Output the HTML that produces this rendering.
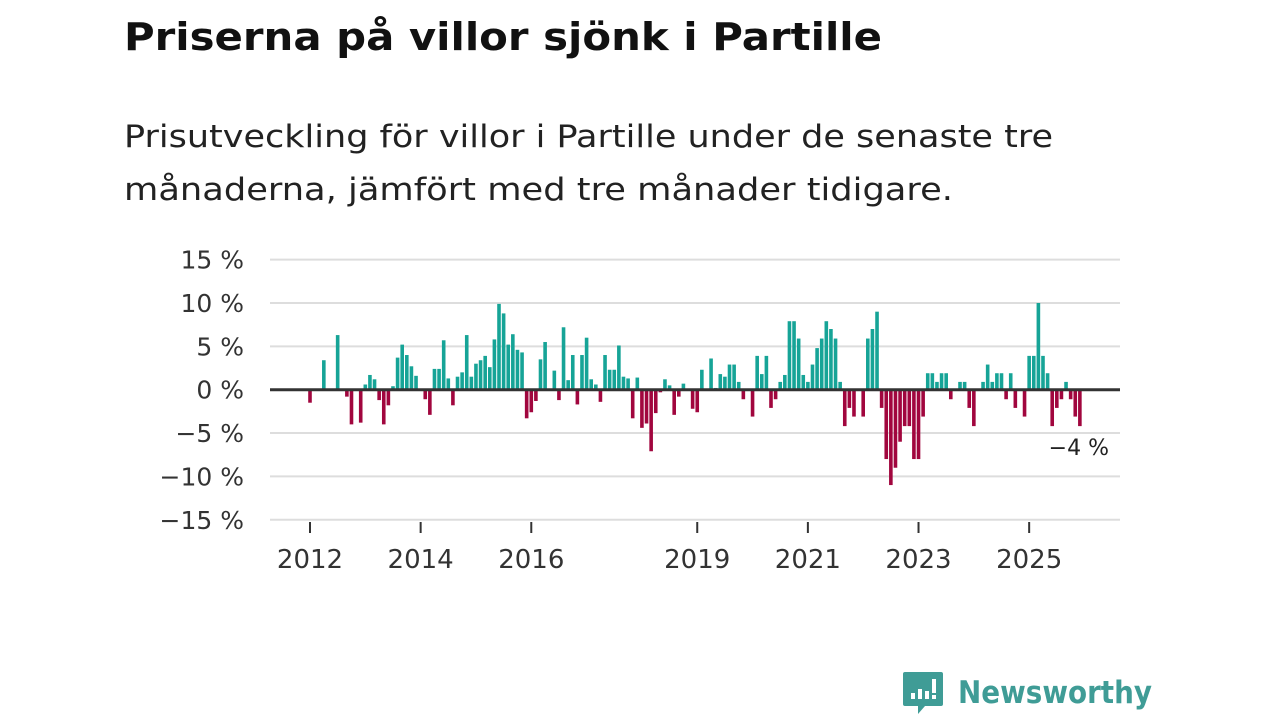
<!DOCTYPE html>
<html><head><meta charset="utf-8"><style>
body{margin:0;background:#fff;width:1280px;height:720px;overflow:hidden}
svg{display:block}
text{font-family:"DejaVu Sans","Liberation Sans",sans-serif}
</style></head><body>
<svg id="chart" width="1280" height="720">
<text x="124" y="50" font-size="38" font-weight="bold" fill="#111" textLength="758" lengthAdjust="spacingAndGlyphs">Priserna på villor sjönk i Partille</text>
<text x="124" y="147" font-size="31" fill="#222" textLength="929" lengthAdjust="spacingAndGlyphs">Prisutveckling för villor i Partille under de senaste tre</text>
<text x="124" y="200" font-size="31" fill="#222" textLength="829" lengthAdjust="spacingAndGlyphs">månaderna, jämfört med tre månader tidigare.</text>
<g id="grid"></g><g id="bars"></g><g id="axes"></g>
<text x="1109" y="455" font-size="22" fill="#222" text-anchor="end">−4 %</text>
<g>
<path d="M905,672 h36 a2,2 0 0 1 2,2 v30 a2,2 0 0 1 -2,2 h-16 l-7,8 v-8 h-13 a2,2 0 0 1 -2,-2 v-30 a2,2 0 0 1 2,-2z" fill="#3f9c96"/>
<rect x="911" y="693" width="4" height="6" fill="#fff"/><rect x="918" y="689" width="4" height="10" fill="#fff"/><rect x="925" y="691" width="4" height="8" fill="#fff"/><rect x="932" y="679" width="4" height="14" fill="#fff"/><rect x="932" y="695" width="4" height="4" fill="#fff"/>
<text x="958" y="703" font-size="31" font-weight="bold" fill="#3f9c96" textLength="194" lengthAdjust="spacingAndGlyphs">Newsworthy</text>
</g>
</svg>
<script>
const months=[0,3,6,8,9,11,12,13,14,15,16,17,18,19,20,21,22,23,25,26,27,28,29,30,31,32,33,34,35,36,37,38,39,40,41,42,43,44,45,46,47,48,49,50,51,53,54,55,56,57,58,59,60,61,62,63,64,65,66,67,68,69,70,71,72,73,74,75,76,77,78,79,80,81,83,84,85,86,87,88,89,90,91,92,93,94,96,97,98,99,100,101,102,103,104,105,106,107,108,109,110,111,112,113,114,115,116,117,118,120,121,122,123,124,125,126,127,128,129,130,131,132,133,134,135,136,137,138,139,141,142,143,144,146,147,148,149,150,151,152,153,155,156,157,158,159,160,161,162,163,164,165,166,167];
const values=[-1.5,3.4,6.3,-0.8,-4,-3.8,0.6,1.7,1.2,-1.2,-4,-1.8,0.4,3.7,5.2,4.0,2.7,1.6,-1.1,-2.9,2.4,2.4,5.7,1.3,-1.8,1.5,2.0,6.3,1.5,3.0,3.4,3.9,2.6,5.8,9.9,8.8,5.2,6.4,4.6,4.3,-3.3,-2.6,-1.3,3.5,5.5,2.2,-1.2,7.2,1.1,4.0,-1.7,4.0,6.0,1.2,0.6,-1.4,4.0,2.3,2.3,5.1,1.5,1.3,-3.3,1.4,-4.4,-3.9,-7.1,-2.7,-0.3,1.2,0.5,-2.9,-0.8,0.7,-2.2,-2.6,2.3,0.1,3.6,0.2,1.8,1.5,2.9,2.9,0.9,-1.1,-3.1,3.9,1.8,3.9,-2.1,-1.1,0.9,1.7,7.9,7.9,5.9,1.7,0.9,2.9,4.8,5.9,7.9,7.0,5.9,0.9,-4.2,-2.1,-3.1,-3.1,5.9,7.0,9.0,-2.1,-8.0,-11.0,-9.0,-6.0,-4.2,-4.2,-8.0,-8.0,-3.1,1.9,1.9,0.9,1.9,1.9,-1.1,0.9,0.9,-2.1,-4.2,0.9,2.9,0.9,1.9,1.9,-1.1,1.9,-2.1,-3.1,3.9,3.9,10.0,3.9,1.9,-4.2,-2.1,-1.1,0.9,-1.1,-3.1,-4.2];
const yTicks=[15,10,5,0,-5,-10,-15];
const yTickLabels=["15 %","10 %","5 %","0 %","−5 %","−10 %","−15 %"];
const xTickYears=[2012,2014,2016,2019,2021,2023,2025];
const NS="http://www.w3.org/2000/svg";
const y=v=>389.7-v*8.67;
const x=m=>310+m*4.61;
const xYear=yr=>x((yr-2012)*12);
function mk(t,a,p){const e=document.createElementNS(NS,t);for(const k in a)e.setAttribute(k,a[k]);p.appendChild(e);return e;}
const grid=document.getElementById('grid'),bars=document.getElementById('bars'),axes=document.getElementById('axes');
yTicks.forEach((t,i)=>{
 if(t!==0){const l=mk('line',{x1:270,x2:1120,y1:y(t),y2:y(t),stroke:'#ddd','stroke-width':2},grid);
 
 }
 const tx=mk('text',{x:244,y:y(t)+9,'font-size':25,fill:'#333','text-anchor':'end'},axes);
 tx.textContent=yTickLabels[i];
 
 
});
values.forEach((v,i)=>{
 const r=mk('rect',{x:x(months[i])-1.8,width:3.6,y:Math.min(y(v),y(0)),height:Math.abs(y(v)-y(0)),fill:v>=0?'#16a497':'#a1063e'},bars);
 
 
});
const z=mk('line',{x1:270,x2:1120,y1:y(0),y2:y(0),stroke:'#333','stroke-width':3},axes);


xTickYears.forEach(yr=>{
 const t=mk('line',{x1:xYear(yr),x2:xYear(yr),y1:522,y2:533,stroke:'#333','stroke-width':2},axes);
 
 
 const tx=mk('text',{x:xYear(yr),y:568,'font-size':26,fill:'#333','text-anchor':'middle'},axes);
 tx.textContent=yr;
 
 
});
</script>
</body></html>
